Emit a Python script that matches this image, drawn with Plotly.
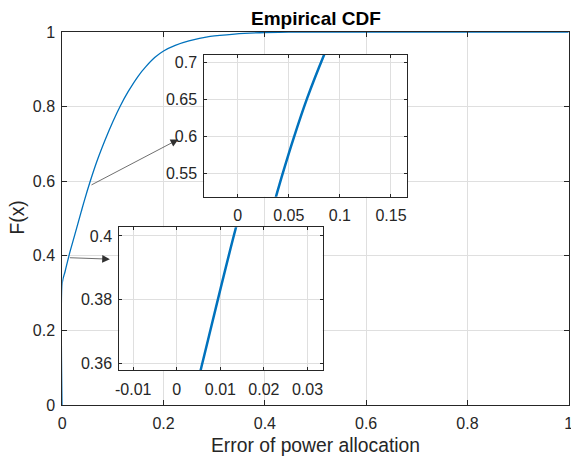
import plotly.graph_objects as go

# Empirical CDF values
err = [0.0, 0.0, 0.0055, 0.0136, 0.025, 0.0375, 0.044, 0.055, 0.068, 0.0847,
       0.100, 0.115, 0.130, 0.150, 0.165, 0.183, 0.200, 0.223, 0.250, 0.292,
       0.340, 0.390, 0.450, 0.500, 1.0]
cdf = [0.0, 0.328, 0.358, 0.4027, 0.458, 0.519, 0.550, 0.599, 0.652, 0.711,
       0.760, 0.803, 0.840, 0.882, 0.907, 0.932, 0.949, 0.964, 0.976, 0.988,
       0.9945, 0.998, 0.9995, 1.0, 1.0]

main_ticks = [0, 0.2, 0.4, 0.6, 0.8, 1]
main_ticktext = ["0", "0.2", "0.4", "0.6", "0.8", "1"]

in1_xticks = [0, 0.05, 0.1, 0.15]
in1_xtext = ["0", "0.05", "0.1", "0.15"]
in1_yticks = [0.55, 0.6, 0.65, 0.7]
in1_ytext = ["0.55", "0.6", "0.65", "0.7"]
in1_xrange = [-0.0327, 0.166]
in1_yrange = [0.5188, 0.7107]

in2_xticks = [-0.01, 0, 0.01, 0.02, 0.03]
in2_xtext = ["-0.01", "0", "0.01", "0.02", "0.03"]
in2_yticks = [0.36, 0.38, 0.4]
in2_ytext = ["0.36", "0.38", "0.4"]
in2_xrange = [-0.0132, 0.0335]
in2_yrange = [0.3579, 0.4027]

# arrows (tail -> head) in main data coordinates
arrow_tails = [(0.0547, 0.588), (0.0119, 0.395)]
arrow_heads = [(0.229, 0.712), (0.094, 0.391)]

W, H = 571, 460
BLUE = "#0072BD"
AX = "#262626"
GRID = "#dfdfdf"
FONT = "Liberation Sans, Arial, sans-serif"

fig = go.Figure()
for xa, ya, lw in [("x", "y", 1.3), ("x2", "y2", 2.5), ("x3", "y3", 2.5)]:
    fig.add_trace(go.Scatter(x=err, y=cdf, mode="lines",
                             line=dict(color=BLUE, width=lw, shape="spline", smoothing=0.9),
                             xaxis=xa, yaxis=ya, showlegend=False))


def px_dom_x(a, b):
    return [a / W, b / W]


def px_dom_y(top, bottom):
    return [(H - bottom) / H, (H - top) / H]


def ax_style(tickvals, ticktext, rng, ticklen, domain, anchor, standoff, size=16):
    return dict(domain=domain, anchor=anchor, range=rng, tickmode="array",
                tickvals=tickvals, ticktext=ticktext, showgrid=True, gridcolor=GRID,
                gridwidth=1, zeroline=False, showline=True, linecolor=AX, linewidth=1,
                mirror="ticks", ticks="inside", ticklen=ticklen, tickcolor=AX,
                tickwidth=1, automargin=False, ticklabeloverflow="allow",
                ticklabelstandoff=standoff,
                tickfont=dict(family=FONT, size=size, color=AX))


fig.update_layout(
    width=W, height=H, autosize=False,
    margin=dict(l=0, r=0, t=0, b=0, pad=0),
    paper_bgcolor="white", plot_bgcolor="#ffffff",
    showlegend=False,
    xaxis=ax_style(main_ticks, main_ticktext, [0, 1], 5, px_dom_x(62.3, 568.7), "y", 4),
    yaxis=ax_style(main_ticks, main_ticktext, [0, 1], 5, px_dom_y(32, 405), "x", 3),
    xaxis2=ax_style(in1_xticks, in1_xtext, in1_xrange, 3, px_dom_x(204.3, 407.3), "y2", 4),
    yaxis2=ax_style(in1_yticks, in1_ytext, in1_yrange, 3, px_dom_y(54.7, 196.7), "x2", 3),
    xaxis3=ax_style(in2_xticks, in2_xtext, in2_xrange, 3, px_dom_x(119.3, 322.7), "y3", 5),
    yaxis3=ax_style(in2_yticks, in2_ytext, in2_yrange, 3, px_dom_y(227.3, 370), "x3", 3),
)

annotations = [
    dict(text="<b>Empirical CDF</b>", xref="paper", yref="paper", x=315.5 / W, y=1 - 19 / H,
         xanchor="center", yanchor="middle", showarrow=False,
         font=dict(family=FONT, size=19, color="black")),
    dict(text="Error of power allocation", xref="paper", yref="paper", x=315.8 / W,
         y=1 - 445 / H, xanchor="center", yanchor="middle", showarrow=False,
         font=dict(family=FONT, size=19.3, color=AX)),
    dict(text="F(x)", xref="paper", yref="paper", x=17.5 / W, y=1 - 218 / H,
         xanchor="center", yanchor="middle", showarrow=False, textangle=-90,
         font=dict(family=FONT, size=19.3, color=AX)),
]
for (tx, ty), (hx, hy) in zip(arrow_tails, arrow_heads):
    annotations.append(dict(text="", x=hx, y=hy, ax=tx, ay=ty, xref="x", yref="y",
                            axref="x", ayref="y", showarrow=True, arrowhead=2,
                            arrowsize=2.2, arrowwidth=0.7, arrowcolor="#303030"))
fig.update_layout(annotations=annotations)

fig.write_html("out.html")
